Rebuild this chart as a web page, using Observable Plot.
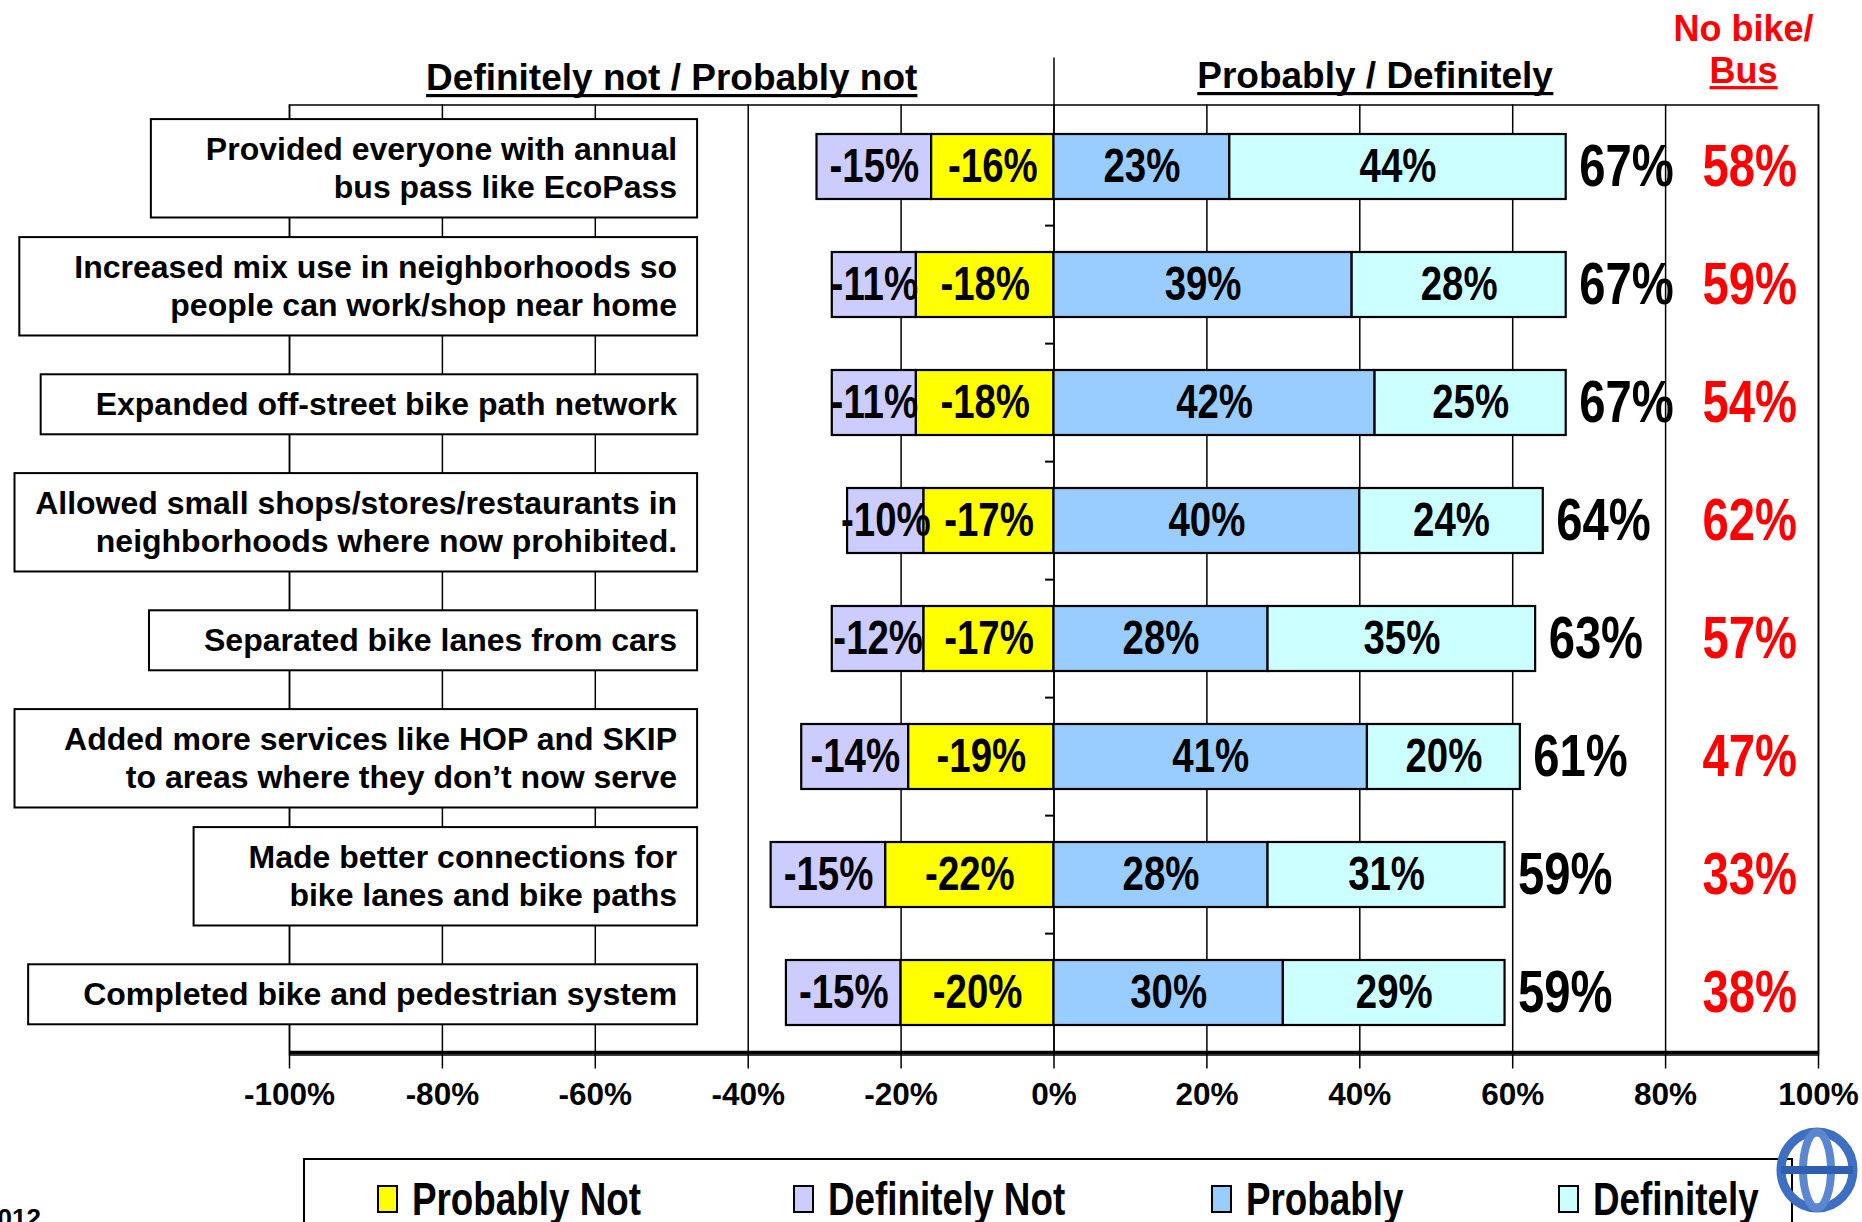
<!DOCTYPE html>
<html>
<head>
<meta charset="utf-8">
<script src="https://cdn.jsdelivr.net/npm/d3@7"></script>
<script src="https://cdn.jsdelivr.net/npm/@observablehq/plot@0.6"></script>
<style>
  html, body { margin: 0; padding: 0; background: #fff; width: 1862px; height: 1222px; overflow: hidden; }
  #chart { position: absolute; left: 0; top: 0; }
  #legend { position: absolute; left: 303px; top: 1158px; width: 1490px; height: 130px; border: 2px solid #000; box-sizing: border-box; background: #fff;
            font-family: "Liberation Sans", Arial, sans-serif; font-weight: bold; font-size: 46px; }
  .item { position: absolute; top: 14px; display: flex; align-items: center; height: 50px; white-space: nowrap; }
  .sw { width: 17px; height: 24px; border: 2px solid #000; margin-right: 14px; flex: none; }
  .lt { display: inline-block; transform: scaleX(0.8); transform-origin: 0 50%; }
  #year { position: absolute; left: -17px; top: 1203px; font-family: "Liberation Sans", Arial, sans-serif; font-weight: bold; font-size: 26px; }
  #logo { position: absolute; left: 1772px; top: 1122px; }
</style>
</head>
<body>
<div id="chart"></div>
<div id="legend"></div>
<div id="year">2012</div>
<svg id="logo" width="90" height="100" viewBox="0 0 90 100">
  <ellipse cx="45" cy="48" rx="36" ry="38" fill="none" stroke="#3f6fc2" stroke-width="9"/>
  <ellipse cx="45" cy="48" rx="14" ry="38" fill="none" stroke="#5b86d0" stroke-width="8"/>
  <line x1="9" y1="48" x2="81" y2="48" stroke="#2f5fb0" stroke-width="8"/>
</svg>
<script>
// ---------- data ----------
const categories = [
  "Provided everyone with annual\nbus pass like EcoPass",
  "Increased mix use in neighborhoods so\npeople can work/shop near home",
  "Expanded off-street bike path network",
  "Allowed small shops/stores/restaurants in\nneighborhoods where now prohibited.",
  "Separated bike lanes from cars",
  "Added more services like HOP and SKIP\nto areas where they don\u2019t now serve",
  "Made better connections for\nbike lanes and bike paths",
  "Completed bike and pedestrian system"
];
const definitelyNot = [-15, -11, -11, -10, -12, -14, -15, -15];
const probablyNot   = [-16, -18, -18, -17, -17, -19, -22, -20];
const probably      = [23, 39, 42, 40, 28, 41, 28, 30];
const definitely    = [44, 28, 25, 24, 35, 20, 31, 29];
const totals        = [67, 67, 67, 64, 63, 61, 59, 59];
const noBikeBus     = [58, 59, 54, 62, 57, 47, 33, 38];
const xTicks = [-100, -80, -60, -40, -20, 0, 20, 40, 60, 80, 100];
const seriesNames  = ["Probably Not", "Definitely Not", "Probably", "Definitely"];
const seriesColors = ["#FFFF00", "#CCCCFF", "#99CCFF", "#CCFFFF"];
const headerLeft = "Definitely not / Probably not";
const headerRight = "Probably / Definitely";
const noBikeHeader1 = "No bike/";
const noBikeHeader2 = "Bus";

// ---------- layout ----------
const W = 1862, H = 1140, mt = 104.5, mb = 85.5, ml = 289, mr = 44;
const step = (H - mt - mb) / categories.length;
const regular = "'Liberation Sans', Arial, sans-serif";
const narrowTag = "'Liberation Sans', 'Arial Narrow', Arial, sans-serif"; // drawn condensed below
const labelAnchorX = -49.3;   // right edge of category labels (x-units)
const redColumnX = 91;        // centre of "No bike/Bus" column (x-units)

const segs = [];
categories.forEach((c, i) => {
  const pn = probablyNot[i], dn = definitelyNot[i], p = probably[i], d = definitely[i];
  segs.push({cat: c, series: "Definitely Not", x1: pn + dn, x2: pn, v: dn});
  segs.push({cat: c, series: "Probably Not", x1: pn, x2: 0, v: pn});
  segs.push({cat: c, series: "Probably", x1: 0, x2: p, v: p});
  segs.push({cat: c, series: "Definitely", x1: p, x2: p + d, v: d});
});
const rows = categories.map((c, i) => ({cat: c, total: totals[i], nb: noBikeBus[i]}));

const plot = Plot.plot({
  width: W, height: H,
  marginTop: mt, marginBottom: mb, marginLeft: ml, marginRight: mr,
  x: {domain: [-100, 100], axis: null},
  y: {domain: categories, axis: null, paddingInner: 0.45, paddingOuter: 0.225},
  color: {domain: seriesNames, range: seriesColors},
  style: {background: "white", overflow: "visible", fontFamily: regular, color: "black"},
  marks: [
    Plot.ruleX(xTicks, {stroke: "black", strokeWidth: 1.5}),
    Plot.ruleX([0], {stroke: "black", strokeWidth: 1.5, insetTop: -47}),
    Plot.ruleY(categories.slice(1), {y: d => d, x1: -1.1, x2: 0, dy: -step / 2, stroke: "black", strokeWidth: 2}),
    Plot.frame({stroke: "black", strokeWidth: 1.5}),
    Plot.ruleY([categories[categories.length - 1]], {y: d => d, x1: -100, x2: 100, dy: step / 2, stroke: "black", strokeWidth: 3.5}),
    Plot.barX(segs, {x1: "x1", x2: "x2", y: "cat", fill: "series", stroke: "black", strokeWidth: 2.2}),
    Plot.text(segs, {x: d => (d.x1 + d.x2) / 2, y: "cat", text: d => d.v + "%", fontSize: 48, fontWeight: "bold", fontFamily: narrowTag, fill: "black"}),
    Plot.text(categories, {x: labelAnchorX, y: d => d, text: d => d, textAnchor: "end", fontSize: 32, fontWeight: "bold", lineHeight: 1.2, fill: "black"}),
    Plot.text(rows, {x: "total", y: "cat", text: d => d.total + "%", dx: 13, textAnchor: "start", fontSize: 59, fontWeight: "bold", fontFamily: narrowTag, fill: "black"}),
    Plot.text(rows, {x: redColumnX, y: "cat", text: d => d.nb + "%", textAnchor: "middle", fontSize: 59, fontWeight: "bold", fontFamily: narrowTag, fill: "#FF0000"}),
    Plot.axisX(xTicks, {tickSize: 14, tickPadding: 14, tickFormat: d => d + "%", fontSize: 31.5, fontWeight: "bold", fontFamily: regular, stroke: "black", strokeWidth: 1.5}),
    Plot.text([headerLeft], {x: -50, frameAnchor: "top", lineAnchor: "bottom", dy: -15.5, text: d => d, fontSize: 37, fontWeight: "bold", fill: "black"}),
    Plot.text([headerRight], {x: 42, frameAnchor: "top", lineAnchor: "bottom", dy: -17.5, text: d => d, fontSize: 37, fontWeight: "bold", fill: "black"}),
    Plot.text([noBikeHeader1], {x: redColumnX - 0.8, frameAnchor: "top", lineAnchor: "bottom", dy: -64.5, text: d => d, fontSize: 36, fontWeight: "bold", fill: "#FF0000"}),
    Plot.text([noBikeHeader2], {x: redColumnX - 0.8, frameAnchor: "top", lineAnchor: "bottom", dy: -22.5, text: d => d, fontSize: 36, fontWeight: "bold", fill: "#FF0000"})
  ]
});
document.getElementById("chart").appendChild(plot);

const ns = "http://www.w3.org/2000/svg";
const allTexts = Array.from(plot.querySelectorAll("text"));

// condensed (narrow) value labels
plot.querySelectorAll(`g[font-family="${narrowTag}"] text`).forEach(t => {
  const cx = parseFloat(t.getAttribute("x")) || 0;
  const tr = t.getAttribute("transform") || "";
  t.setAttribute("transform", `${tr} translate(${cx},0) scale(0.8,1) translate(${-cx},0)`);
});

function offsetOf(t) {
  const c = t.transform && t.transform.baseVal && t.transform.baseVal.consolidate();
  return c ? {tx: c.matrix.e, ty: c.matrix.f} : {tx: 0, ty: 0};
}

// underlines for headers
const underlined = new Map([[headerLeft, "black"], [headerRight, "black"], [noBikeHeader2, "#FF0000"]]);
allTexts.forEach(t => {
  if (!underlined.has(t.textContent)) return;
  const b = t.getBBox();
  const fs = parseFloat(getComputedStyle(t).fontSize);
  const baseline = b.y + 0.905 * fs;
  const r = document.createElementNS(ns, "rect");
  r.setAttribute("x", b.x); r.setAttribute("y", baseline + 4);
  r.setAttribute("width", b.width); r.setAttribute("height", 3.2);
  r.setAttribute("fill", underlined.get(t.textContent));
  if (t.getAttribute("transform")) r.setAttribute("transform", t.getAttribute("transform"));
  t.parentNode.insertBefore(r, t.nextSibling);
});

// white boxes behind category labels
const catFlat = new Set(categories.map(c => c.replace("\n", "")));
allTexts.forEach(t => {
  if (!catFlat.has(t.textContent)) return;
  const b = t.getBBox();
  const {tx} = offsetOf(t);
  const x0 = Math.max(14 - tx, b.x - 55);
  const x1 = b.x + b.width + 20;
  const h = b.height + 24;
  const cy = b.y + b.height / 2;
  const r = document.createElementNS(ns, "rect");
  r.setAttribute("x", x0); r.setAttribute("y", cy - h / 2);
  r.setAttribute("width", x1 - x0); r.setAttribute("height", h);
  r.setAttribute("fill", "white"); r.setAttribute("stroke", "black"); r.setAttribute("stroke-width", "2");
  if (t.getAttribute("transform")) r.setAttribute("transform", t.getAttribute("transform"));
  t.parentNode.insertBefore(r, t);
});

// legend
const legendOffsets = [72, 488, 906, 1253];
const legend = document.getElementById("legend");
seriesNames.forEach((s, i) => {
  const it = document.createElement("div");
  it.className = "item";
  it.style.left = legendOffsets[i] + "px";
  const sw = document.createElement("div");
  sw.className = "sw";
  sw.style.background = seriesColors[i];
  const tx = document.createElement("span");
  tx.className = "lt";
  tx.textContent = s;
  it.appendChild(sw); it.appendChild(tx);
  legend.appendChild(it);
});
</script>
</body>
</html>
